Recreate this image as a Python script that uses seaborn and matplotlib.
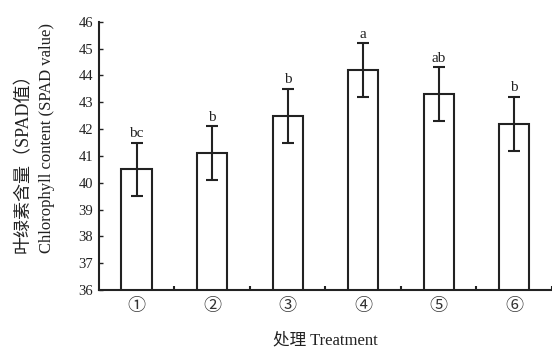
import matplotlib
matplotlib.use("Agg")
import matplotlib.pyplot as plt
import seaborn as sns
import pandas as pd
import numpy as np
from matplotlib.ticker import FixedLocator

treatments = ["①", "②", "③", "④", "⑤", "⑥"]
spad = [40.5, 41.1, 42.5, 44.2, 43.3, 42.2]
sd = [1.0, 1.0, 1.0, 1.0, 1.0, 1.0]
letters = ["bc", "b", "b", "a", "ab", "b"]
yticks = list(range(36, 47))

sns.set_theme(style="white")
fam = ["Liberation Serif", "Noto Sans CJK SC", "DejaVu Sans"]
plt.rcParams["font.family"] = fam

df = pd.DataFrame({"treatment": treatments, "spad": spad})

fig = plt.figure(figsize=(5.52, 3.52), dpi=100)
ax = fig.add_axes([0.179, 0.176, 0.821, 0.762])

sns.barplot(data=df, x="treatment", y="spad", order=treatments, ax=ax,
            color="white", edgecolor="#222222", linewidth=1.5, width=0.4,
            errorbar=None)

xs = np.arange(len(treatments))
ax.errorbar(xs, spad, yerr=sd, fmt="none", ecolor="#222222",
            elinewidth=1.5, capsize=4, capthick=1.5)
for x, v, e, t in zip(xs, spad, sd, letters):
    ax.text(x, v + e + 0.1, t, ha="center", va="bottom", fontsize=11,
            color="#222222", family=fam)

ax.set_ylim(36, 46)
ax.set_xlim(-0.5, len(treatments) - 0.5)
ax.set_yticks(yticks)
ax.set_yticklabels([str(t) for t in yticks], fontsize=10.5, color="#222222")
ax.set_xticks(xs)
ax.set_xticklabels(treatments, fontsize=13, color="#333333", family=fam)
ax.xaxis.set_minor_locator(FixedLocator(np.arange(0.5, len(treatments), 1.0)))
ax.tick_params(axis="x", which="major", length=0, pad=6)
ax.tick_params(axis="x", which="minor", direction="in", length=3, width=1.5,
               color="#222222", bottom=True)
ax.tick_params(axis="y", which="major", direction="in", length=3, width=1.0,
               color="#222222", left=True, pad=4)

for s in ["top", "right"]:
    ax.spines[s].set_visible(False)
for s in ["left", "bottom"]:
    ax.spines[s].set_color("#222222")
    ax.spines[s].set_linewidth(1.5)

ax.set_xlabel("处理 Treatment", fontsize=12, color="#222222", labelpad=12,
              family=fam)
ax.set_ylabel("")
fig.text(23 / 552, 1 - 253 / 352, "叶绿素含量（SPAD值）", rotation=90,
         ha="center", va="bottom", fontsize=13, color="#222222", family=fam)
fig.text(47 / 552, 1 - 253 / 352, "Chlorophyll content (SPAD value)",
         rotation=90, ha="center", va="bottom", fontsize=12,
         color="#222222", family=fam)

fig.savefig("out.png", dpi=100)
